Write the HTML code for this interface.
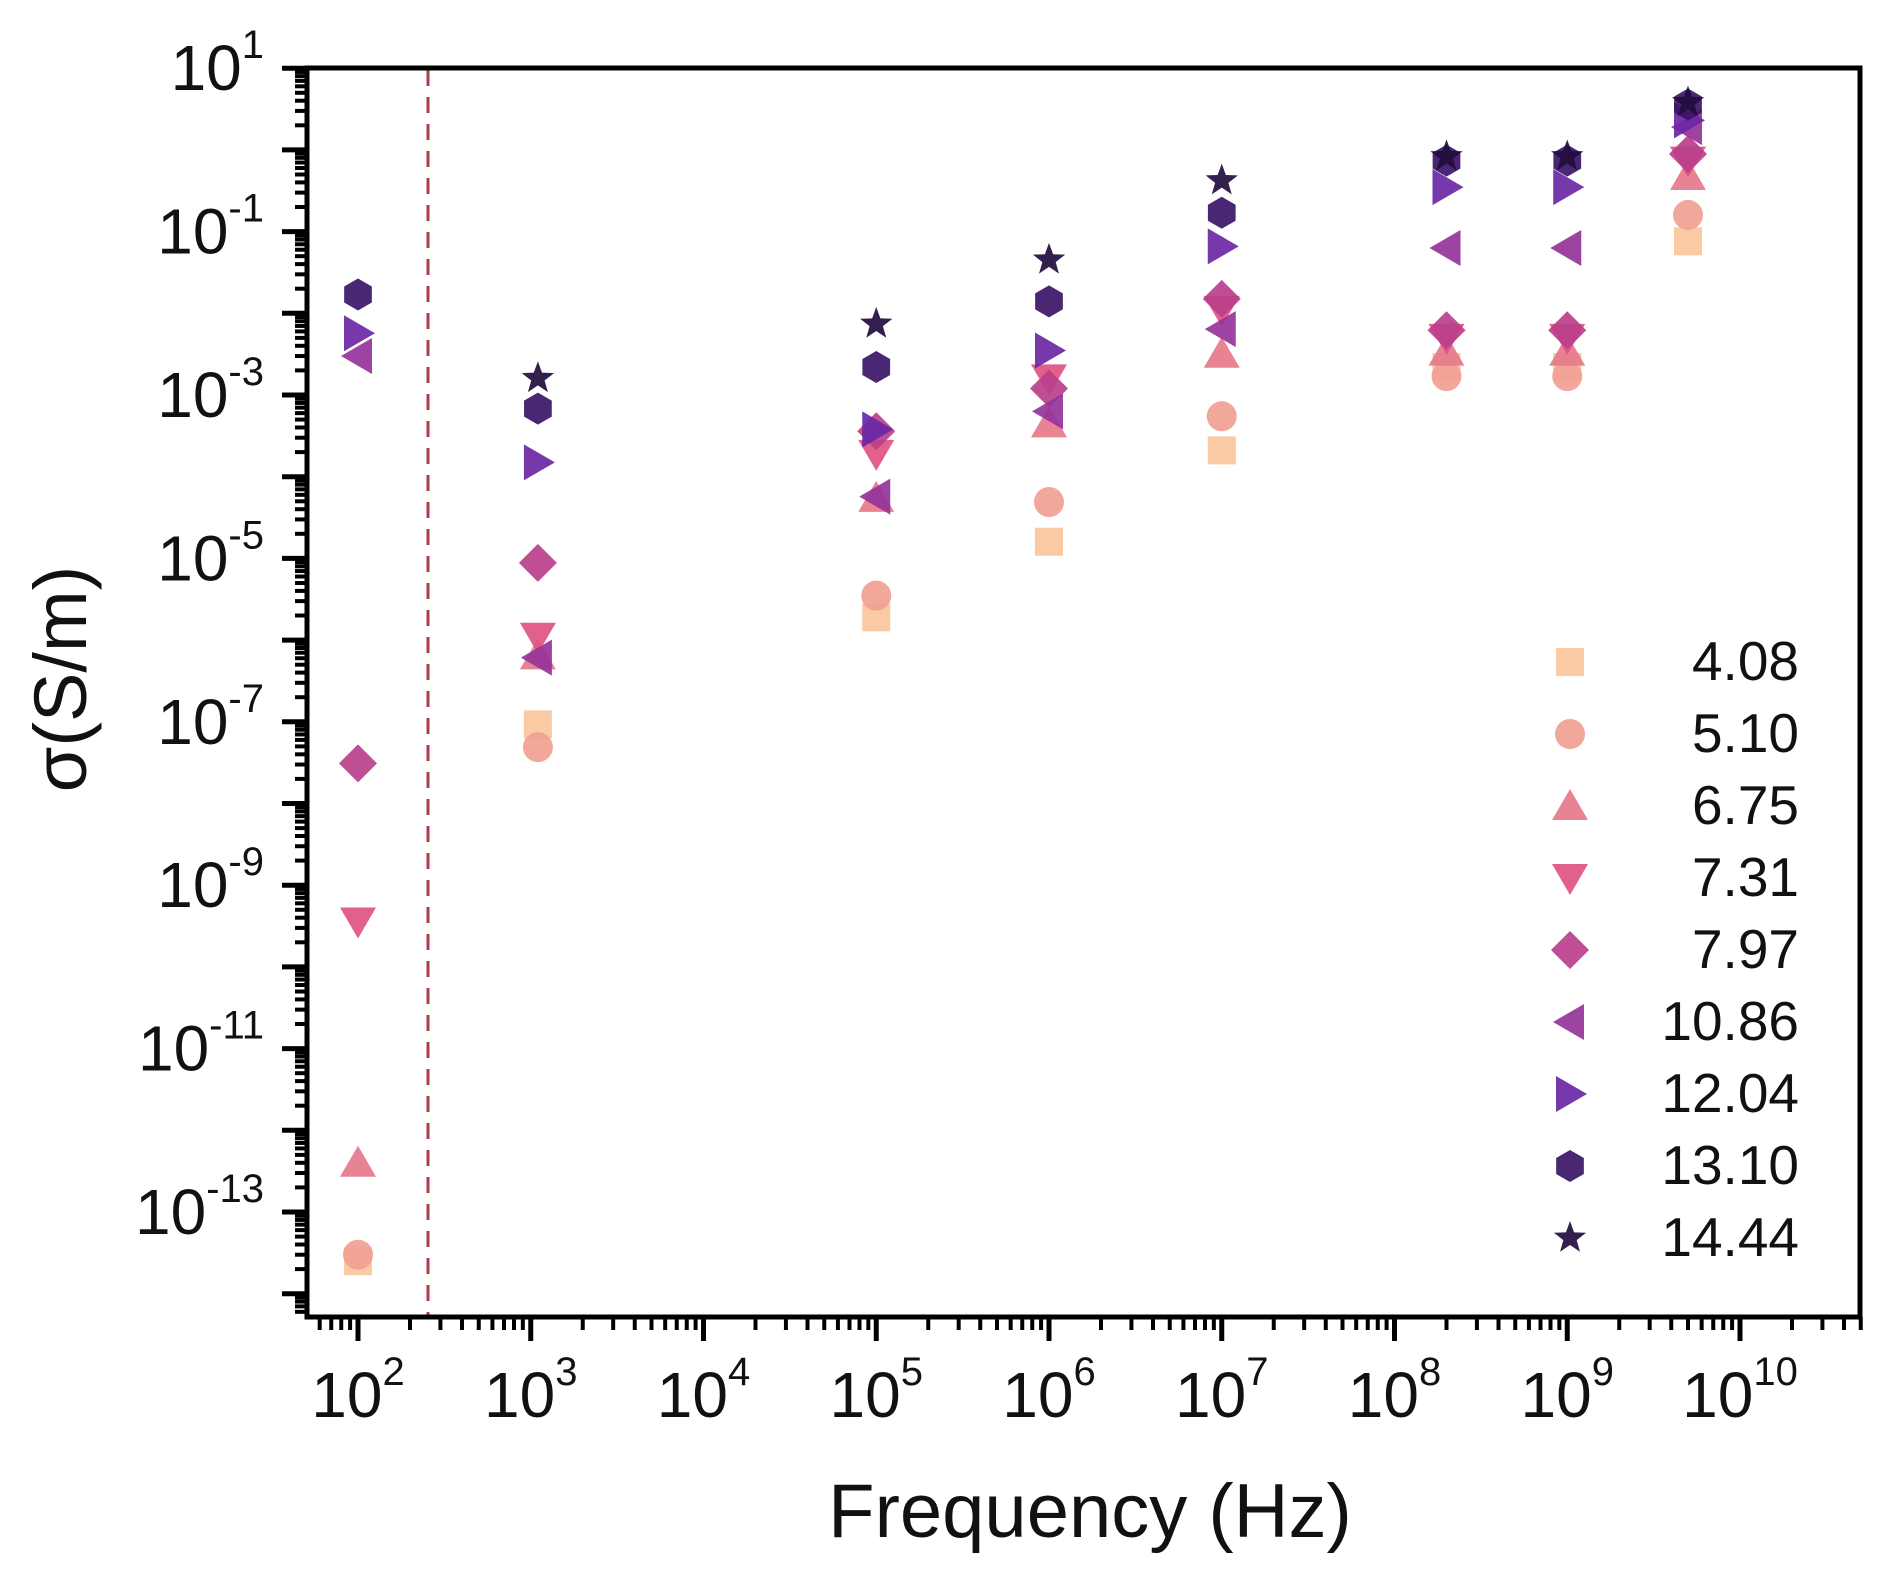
<!DOCTYPE html>
<html><head><meta charset="utf-8">
<style>
html,body{margin:0;padding:0;background:#fff;}
svg{display:block;font-family:"Liberation Sans",Arial,sans-serif;}
</style></head>
<body>
<svg id="chart" width="1900" height="1576" viewBox="0 0 1900 1576" xmlns="http://www.w3.org/2000/svg">
<rect x="0" y="0" width="1900" height="1576" fill="#fff"/>
<g id="ticks"></g>
<g id="labels"></g>
<line x1="428" y1="70" x2="428" y2="1315" stroke="#a8404a" stroke-width="3" stroke-dasharray="16,11"/>
<g id="marks"></g>
<rect x="307" y="68" width="1553" height="1249" fill="none" stroke="#000" stroke-width="5"/>
<text x="1090" y="1537" font-size="76" text-anchor="middle" fill="#111">Frequency (Hz)</text>
<text transform="translate(86,679) rotate(-90)" font-size="74" text-anchor="middle" fill="#111">σ(S/m)</text>
<g id="legend"></g>
</svg>
<script>
const freqs = [1e2, 1.1e3, 1e5, 1e6, 1e7, 2e8, 1e9, 5e9];
const seriesNames = ["4.08","5.10","6.75","7.31","7.97","10.86","12.04","13.10","14.44"];
const s408  = [2.5e-14, 9.3e-8, 1.9e-6, 1.6e-5, 2.1e-4, 2.2e-3, 2.2e-3, 7.6e-2];
const s510  = [3e-14, 4.9e-8, 3.5e-6, 4.9e-5, 5.5e-4, 1.7e-3, 1.7e-3, 0.16];
const s675  = [4e-13, 6.5e-7, 5.5e-5, 4.5e-4, 3.2e-3, 3.4e-3, 3.4e-3, 0.48];
const s731  = [3.6e-10, 1.1e-6, 1.9e-4, 1.6e-3, 1.1e-2, 5e-3, 5e-3, 0.74];
const s797  = [3.1e-8, 8.8e-6, 3.6e-4, 1.2e-3, 1.5e-2, 6.2e-3, 6.2e-3, 0.89];
const s1086 = [3e-3, 6.1e-7, 5.7e-5, 6.3e-4, 6.4e-3, 6.3e-2, 6.3e-2, 1.9];
const s1204 = [5.7e-3, 1.5e-4, 3.8e-4, 3.5e-3, 6.6e-2, 0.35, 0.35, 2.3];
const s1310 = [1.7e-2, 6.8e-4, 2.2e-3, 1.4e-2, 0.17, 0.74, 0.74, 3.6];
const s1444 = [null, 1.6e-3, 7.4e-3, 4.5e-2, 0.42, 0.83, 0.83, 3.8];
const xTickExps = [2,3,4,5,6,7,8,9,10];
const yTickExps = [1,-1,-3,-5,-7,-9,-11,-13];

const allSeries = [s408,s510,s675,s731,s797,s1086,s1204,s1310,s1444];
const colors = ["#f8c59c","#f1a092","#e6788b","#de5282","#bb3f8c","#953399","#6a27a3","#3a1566","#220d3f"];
const shapes = ["square","circle","up","down","diamond","left","right","hex","star"];
const NS = "http://www.w3.org/2000/svg";
const X0=358, XD=172.75, Y0=1212, YD=81.7, LEFT=307, RIGHT=1860, TOP=68, BOT=1317;
function xs(v){return X0+(Math.log10(v)-2)*XD;}
function ys(v){return Y0-(Math.log10(v)+13)*YD;}
function el(tag, attrs, parent){const e=document.createElementNS(NS,tag);for(const k in attrs)e.setAttribute(k,attrs[k]);parent.appendChild(e);return e;}

function shape(type,cx,cy,color,parent){
  let e;
  if(type==="square"){e=el("rect",{x:cx-14,y:cy-14,width:28,height:28,fill:color},parent);}
  else if(type==="circle"){e=el("circle",{cx:cx,cy:cy,r:15,fill:color},parent);}
  else{
    let pts=[];
    if(type==="up")pts=[[0,-17],[18,14],[-18,14]];
    else if(type==="down")pts=[[0,17],[18,-14],[-18,-14]];
    else if(type==="left")pts=[[-17,0],[14,-18],[14,18]];
    else if(type==="right")pts=[[17,0],[-14,-18],[-14,18]];
    else if(type==="diamond")pts=[[0,-19],[19,0],[0,19],[-19,0]];
    else if(type==="hex"){for(let i=0;i<6;i++){const a=-Math.PI/2+i*Math.PI/3;pts.push([16*Math.cos(a),16*Math.sin(a)]);}}
    else if(type==="star"){for(let i=0;i<10;i++){const r=i%2?7:17;const a=-Math.PI/2+i*Math.PI/5;pts.push([r*Math.cos(a),r*Math.sin(a)]);}}
    e=el("polygon",{points:pts.map(p=>(cx+p[0])+","+(cy+p[1])).join(" "),fill:color},parent);
  }
  e.setAttribute("opacity","0.92");
  return e;
}

const ticks=document.getElementById("ticks");
const labels=document.getElementById("labels");
for(let d=1;d<=10;d++){
  for(let m=1;m<=9;m++){
    const v=m*Math.pow(10,d); const x=xs(v);
    if(x<LEFT+2||x>RIGHT+1)continue;
    const major=m===1;
    const t=el("line",{x1:x,y1:BOT,x2:x,y2:BOT+(major?24:13),stroke:"#000","stroke-width":major?5:4},ticks);
    
    
  }
}
for(let d=-15;d<=1;d++){
  for(let m=1;m<=9;m++){
    const v=m*Math.pow(10,d); const y=ys(v);
    if(y<TOP-1||y>BOT-2)continue;
    const major=m===1;
    const t=el("line",{x1:LEFT,y1:y,x2:LEFT-(major?25:12),y2:y,stroke:"#000","stroke-width":major?5:4},ticks);
    
    
  }
}
xTickExps.forEach(e=>{
  const t=el("text",{x:xs(Math.pow(10,e)),y:1417,"font-size":64,"text-anchor":"middle",fill:"#111"},labels);
  
  
  t.appendChild(document.createTextNode("10"));
  const s=el("tspan",{"font-size":40,dy:-32},t); s.textContent=String(e);
});
yTickExps.forEach(e=>{
  const t=el("text",{x:264,y:ys(Math.pow(10,e))+22,"font-size":64,"text-anchor":"end",fill:"#111"},labels);
  
  
  t.appendChild(document.createTextNode("10"));
  const s=el("tspan",{"font-size":40,dy:-32},t); s.textContent=(e<0?"-":"")+Math.abs(e);
});
const marks=document.getElementById("marks");
allSeries.forEach((arr,si)=>{
  const g=el("g",{},marks);
  
  
  arr.forEach((v,i)=>{
    if(v==null)return;
    const p=shape(shapes[si],xs(freqs[i]),ys(v),colors[si],g);
    
    
  });
});
const legend=document.getElementById("legend");
seriesNames.forEach((n,i)=>{
  const cy=662+i*72.0;
  const g=el("g",{},legend);
  
  
  shape(shapes[i],1570,cy,colors[i],g);
  const t=el("text",{x:1799,y:cy+18,"font-size":55,"text-anchor":"end",fill:"#111"},g);
  t.textContent=n;
});
</script>
</body></html>
